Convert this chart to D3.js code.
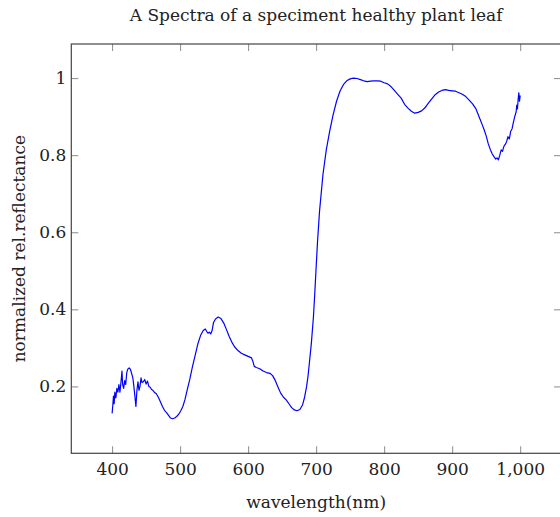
<!DOCTYPE html>
<html>
<head>
<meta charset="utf-8">
<script src="https://cdn.jsdelivr.net/npm/d3@7"></script>
<style>
  body { margin: 0; background: #fff; }
  text { font-family: "DejaVu Serif", "Liberation Serif", serif; fill: #222; }
</style>
</head>
<body>
<script>
// spectrum
var wavelength = [400,401,402,403,404,405.5,407,408.5,410,411.5,413,414.5,415.5,417,418.5,420,421.5,423,425,427,429,430.5,432,433.5,435,436.5,438,439.5,441,442.5,444,446,448,450,452,454,456,458,460,462,465,468,471,474,477,480,483,486,489,492,495,498,501,504,507,510,514,518,522,526,530,534,537,539,541,543,545,547,549,552,556,560,564,568,572,576,580,585,590,595,600,605,607,609,612,617,622,627,632,636,640,644,648,652,656,660,664,668,672,676,680,683,686,688,690,693,696,698,700,702,705,710,715,720,725,730,735,740,745,750,755,760,765,770,775,780,785,790,795,800,805,810,815,820,825,830,835,840,845,850,855,860,865,870,875,880,885,890,895,900,905,910,915,920,925,930,935,938,941,944,947,950,953,956,959,962,964,966,968,970,972,974,976,978,980,982,984,986,988,990,992,994,995,996,997,998,999,1000]
var reflectance = [0.13,0.15,0.175,0.155,0.185,0.17,0.195,0.185,0.205,0.185,0.21,0.24,0.205,0.195,0.215,0.205,0.235,0.245,0.248,0.244,0.232,0.222,0.2,0.175,0.148,0.19,0.212,0.19,0.2,0.222,0.21,0.212,0.218,0.206,0.214,0.2,0.198,0.192,0.19,0.185,0.181,0.172,0.16,0.148,0.138,0.132,0.125,0.118,0.116,0.118,0.122,0.128,0.137,0.148,0.165,0.188,0.217,0.25,0.28,0.31,0.332,0.345,0.349,0.343,0.338,0.341,0.336,0.345,0.365,0.375,0.38,0.376,0.365,0.348,0.33,0.315,0.303,0.293,0.286,0.282,0.278,0.274,0.265,0.252,0.249,0.246,0.24,0.236,0.234,0.228,0.215,0.198,0.182,0.172,0.165,0.155,0.145,0.139,0.137,0.14,0.152,0.172,0.2,0.226,0.26,0.313,0.38,0.442,0.51,0.575,0.655,0.75,0.815,0.863,0.905,0.94,0.966,0.983,0.993,0.998,1.0,0.999,0.996,0.993,0.991,0.992,0.993,0.993,0.992,0.988,0.985,0.978,0.968,0.958,0.948,0.932,0.922,0.914,0.909,0.911,0.915,0.923,0.935,0.946,0.957,0.964,0.968,0.97,0.968,0.967,0.966,0.962,0.958,0.952,0.943,0.933,0.92,0.907,0.893,0.88,0.866,0.85,0.83,0.815,0.803,0.795,0.79,0.793,0.788,0.8,0.814,0.81,0.823,0.828,0.835,0.848,0.842,0.862,0.868,0.885,0.9,0.912,0.93,0.92,0.945,0.962,0.94,0.955]

var xTicks = [400,500,600,700,800,900,1000]
var yTicks = [0.2,0.4,0.6,0.8,1]

var chartTitle = "A Spectra of a speciment healthy plant leaf"
var xTitle = "wavelength(nm)"
var yTitle = "normalized rel.reflectance"

var W = 560, H = 517
var plotL = 71.3, plotR = 561, plotT = 44, plotB = 453.3
var fs = "17px"

var svg = d3.select("body").append("svg")
	.attr("width", W)
	.attr("height", H)

var x = d3.scaleLinear().domain([340, 1060]).range([plotL, plotR])
var y = d3.scaleLinear().domain([0.0265, 1.0885]).range([plotB, plotT])

function styleAxis(g) {
	g.select(".domain").remove()
	g.selectAll(".tick line").attr("stroke", "#8a8a8a").attr("stroke-width", 1)
	g.selectAll(".tick text").style("font-size", fs).attr("fill", "#222")
}

svg.append("g")
	.attr("transform", "translate(0," + plotB + ")")
	.call(d3.axisBottom(x).tickValues(xTicks).tickFormat(d3.format(",")).tickSize(-7).tickPadding(10))
	.call(styleAxis)

svg.append("g")
	.attr("transform", "translate(0," + plotT + ")")
	.call(d3.axisTop(x).tickValues(xTicks).tickFormat("").tickSize(-7))
	.call(styleAxis)

svg.append("g")
	.attr("transform", "translate(" + plotL + ",0)")
	.call(d3.axisLeft(y).tickValues(yTicks).tickFormat(d3.format("")).tickSize(-7).tickPadding(5))
	.call(styleAxis)

svg.append("g")
	.attr("transform", "translate(" + plotR + ",0)")
	.call(d3.axisRight(y).tickValues(yTicks).tickFormat("").tickSize(-7))
	.call(styleAxis)

// frame
svg.append("rect")
	.attr("x", plotL).attr("y", plotT)
	.attr("width", plotR - plotL).attr("height", plotB - plotT)
	.attr("fill", "none")
	.attr("stroke", "#444")
	.attr("stroke-width", 1.2)

var pts = wavelength.map(function(w, i) { return [w, reflectance[i]] })

var line = d3.line()
	.x(function(d) { return x(d[0]) })
	.y(function(d) { return y(d[1]) })

svg.append("path")
	.datum(pts)
	.attr("d", line)
	.attr("fill", "none")
	.attr("stroke", "#0000ff")
	.attr("stroke-width", 1.2)
	.attr("stroke-linejoin", "round")

svg.append("text")
	.attr("x", (plotL + plotR) / 2)
	.attr("y", 21)
	.attr("text-anchor", "middle")
	.style("font-size", fs)
	.text(chartTitle)

svg.append("text")
	.attr("x", (plotL + plotR) / 2)
	.attr("y", 508)
	.attr("text-anchor", "middle")
	.style("font-size", fs)
	.text(xTitle)

svg.append("text")
	.attr("transform", "translate(25," + ((plotT + plotB) / 2) + ") rotate(-90)")
	.attr("text-anchor", "middle")
	.style("font-size", fs)
	.text(yTitle)
</script>
</body>
</html>
